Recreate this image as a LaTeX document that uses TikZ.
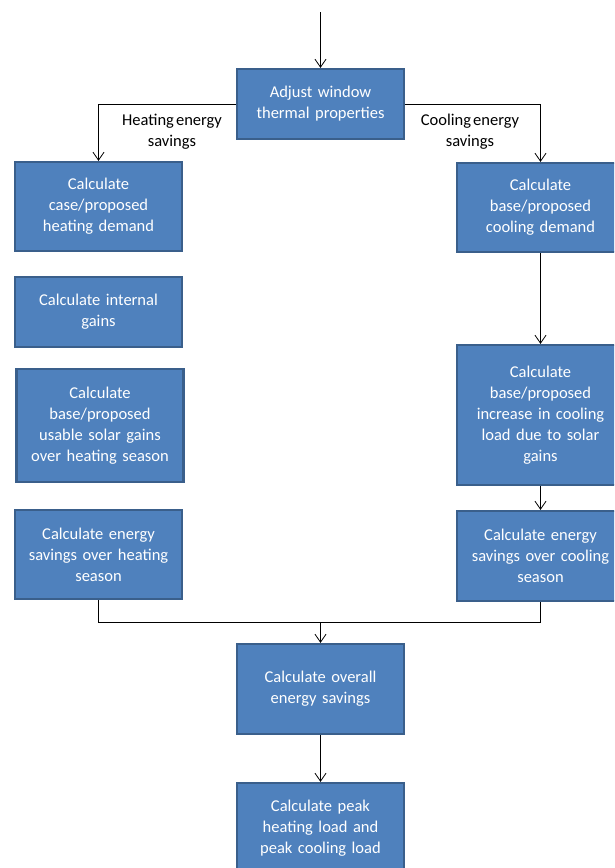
\documentclass[tikz,border=0pt]{standalone}
\usepackage{fontspec}
\setmainfont{Carlito}[WordSpace=0.55]
\usetikzlibrary{arrows.meta}
\definecolor{boxfill}{HTML}{4F81BD}
\definecolor{boxline}{HTML}{3A5F8B}
\begin{document}
\begin{tikzpicture}[
  x=1pt,y=-1pt,
  step box/.style={draw=boxline,fill=boxfill,line width=2.2pt,minimum width=167pt,
    text width=160pt,align=center,text=white,inner sep=0pt,
    font=\fontsize{16.5}{21}\selectfont},
  lab/.style={align=center,font=\fontsize{16.5}{21}\selectfont},
  arr/.style={-{Straight Barb[length=8pt,width=11pt]},line width=0.8pt},
  link/.style={line width=0.8pt}
]
\useasboundingbox (0,0) rectangle (614,868);
\clip (0,0) rectangle (614,868);

\def\xl{98.5}
\def\xm{320.5}
\def\xr{540.5}

% top
\coordinate (start) at (\xm,12);
\node[step box,minimum height=70pt] (adjust) at (\xm,104) {Adjust window\\thermal properties};

% heating side
\node[step box,minimum height=89pt] (h1) at (\xl,206.5) {Calculate\\case/proposed\\heating demand};
\node[step box,minimum height=70pt] (h2) at (\xl,312) {Calculate internal\\gains};
\node[step box,minimum height=113pt] (h3) at (100,425.5) {Calculate\\base/proposed\\usable solar gains\\over heating season};
\node[step box,minimum height=89pt] (h4) at (\xl,554.5) {Calculate energy\\savings over heating\\season};

% cooling side
\node[step box,minimum height=89pt] (c1) at (\xr,207.5) {Calculate\\base/proposed\\cooling demand};
\node[step box,minimum height=140pt] (c2) at (\xr,415) {Calculate\\base/proposed\\increase in cooling\\load due to solar\\gains};
\node[step box,minimum height=90pt] (c3) at (\xr,556) {Calculate energy\\savings over cooling\\season};

% bottom
\coordinate (merge) at (\xm,622);
\node[step box,minimum height=90pt] (overall) at (\xm,689) {Calculate overall\\energy savings};
\node[step box,minimum height=90pt] (peak) at (\xm,828) {Calculate peak\\heating load and\\peak cooling load};

\node[lab] (hlab) at (172,132) {Heating energy\\savings};
\node[lab] (clab) at (470,132) {Cooling energy\\savings};

\draw[arr] (start) -- (adjust);
\draw[arr] (adjust.west) -| (h1.north);
\draw[arr] (adjust.east) -| (c1.north);
\draw[arr] (c1) -- (c2);
\draw[arr] (c2) -- (c3);
\draw[link] (h4.south) |- (merge);
\draw[link] (c3.south) |- (merge);
\draw[arr] (merge) -- (overall);
\draw[arr] (overall) -- (peak);

\end{tikzpicture}
\end{document}
